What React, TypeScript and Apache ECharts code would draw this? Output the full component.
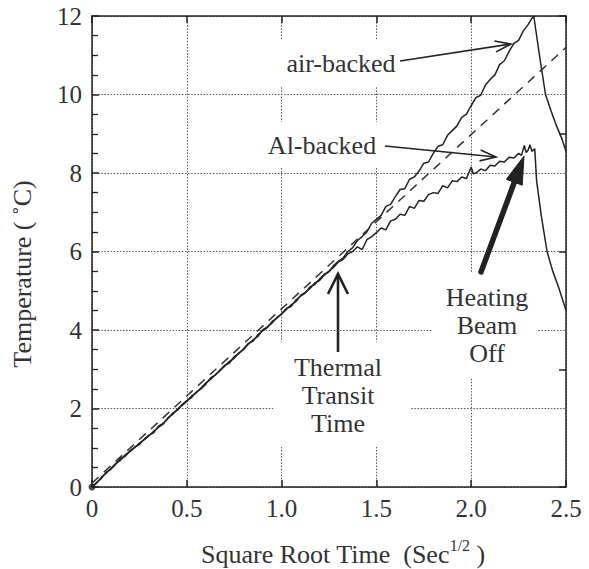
import React, { useEffect, useRef } from "react";
import * as echarts from "echarts";

// ---- data ----
const xTickValues = [0, 0.5, 1.0, 1.5, 2.0, 2.5];
const yTickValues = [0, 2, 4, 6, 8, 10, 12];

const airBacked: [number, number][] = [
  [0, 0], [0.025, 0.12], [0.05, 0.22], [0.075, 0.38], [0.1, 0.45], [0.125, 0.58], [0.15, 0.72],
  [0.175, 0.78], [0.2, 0.92], [0.225, 1.02], [0.25, 1.08], [0.275, 1.22], [0.3, 1.32],
  [0.325, 1.38], [0.35, 1.55], [0.375, 1.62], [0.4, 1.74], [0.425, 1.88], [0.45, 1.95],
  [0.475, 2.1], [0.5, 2.2], [0.525, 2.28], [0.55, 2.42], [0.575, 2.5], [0.6, 2.62],
  [0.625, 2.78], [0.65, 2.85], [0.675, 2.98], [0.7, 3.1], [0.725, 3.16], [0.75, 3.32],
  [0.775, 3.4], [0.8, 3.52], [0.825, 3.66], [0.85, 3.72], [0.875, 3.88], [0.9, 3.98],
  [0.925, 4.06], [0.95, 4.22], [0.975, 4.3], [1.0, 4.42], [1.025, 4.55], [1.05, 4.6],
  [1.075, 4.76], [1.1, 4.86], [1.125, 4.94], [1.15, 5.1], [1.175, 5.16], [1.2, 5.3],
  [1.225, 5.42], [1.25, 5.48], [1.275, 5.65], [1.3, 5.75], [1.325, 5.84], [1.35, 6.0],
  [1.375, 6.1], [1.4, 6.28], [1.425, 6.38], [1.45, 6.5], [1.475, 6.72], [1.5, 6.82],
  [1.525, 6.92], [1.55, 7.15], [1.575, 7.2], [1.6, 7.4], [1.625, 7.58], [1.65, 7.6],
  [1.675, 7.84], [1.7, 7.9], [1.725, 8.05], [1.75, 8.25], [1.775, 8.28], [1.8, 8.5],
  [1.825, 8.68], [1.85, 8.72], [1.875, 8.96], [1.9, 9.08], [1.925, 9.2], [1.95, 9.42],
  [1.975, 9.5], [2.0, 9.72], [2.025, 9.92], [2.05, 9.98], [2.075, 10.24], [2.1, 10.38],
  [2.125, 10.5], [2.15, 10.76], [2.175, 10.86], [2.2, 11.1], [2.225, 11.3], [2.25, 11.38],
  [2.275, 11.62], [2.3, 11.78], [2.315, 11.9], [2.33, 12.0], [2.36, 11.0], [2.392, 10.0],
  [2.42, 9.6], [2.45, 9.2], [2.48, 8.85], [2.5, 8.55],
];

const alBacked: [number, number][] = [
  [0, 0], [0.025, 0.1], [0.05, 0.25], [0.075, 0.35], [0.1, 0.48], [0.125, 0.6], [0.15, 0.68],
  [0.175, 0.82], [0.2, 0.9], [0.225, 1.0], [0.25, 1.12], [0.275, 1.2], [0.3, 1.3],
  [0.325, 1.42], [0.35, 1.52], [0.375, 1.6], [0.4, 1.76], [0.425, 1.85], [0.45, 1.98],
  [0.475, 2.08], [0.5, 2.18], [0.525, 2.32], [0.55, 2.4], [0.575, 2.52], [0.6, 2.65],
  [0.625, 2.74], [0.65, 2.86], [0.675, 2.96], [0.7, 3.08], [0.725, 3.2], [0.75, 3.28],
  [0.775, 3.42], [0.8, 3.5], [0.825, 3.64], [0.85, 3.75], [0.875, 3.84], [0.9, 4.0],
  [0.925, 4.08], [0.95, 4.18], [0.975, 4.32], [1.0, 4.4], [1.025, 4.52], [1.05, 4.64],
  [1.075, 4.72], [1.1, 4.88], [1.125, 4.96], [1.15, 5.06], [1.175, 5.2], [1.2, 5.26],
  [1.225, 5.4], [1.25, 5.5], [1.275, 5.6], [1.3, 5.74], [1.325, 5.8], [1.35, 5.94],
  [1.375, 6.0], [1.4, 6.12], [1.425, 6.05], [1.45, 6.3], [1.475, 6.38], [1.5, 6.48],
  [1.525, 6.6], [1.55, 6.55], [1.575, 6.78], [1.6, 6.82], [1.625, 6.95], [1.65, 6.92],
  [1.675, 7.15], [1.7, 7.1], [1.725, 7.3], [1.75, 7.28], [1.775, 7.45], [1.8, 7.5],
  [1.825, 7.48], [1.85, 7.68], [1.875, 7.62], [1.9, 7.8], [1.925, 7.78], [1.95, 7.9],
  [1.975, 7.86], [2.0, 8.15], [2.01, 7.98], [2.025, 8.0], [2.05, 8.1], [2.075, 8.06],
  [2.1, 8.2], [2.125, 8.18], [2.15, 8.3], [2.175, 8.28], [2.2, 8.4], [2.225, 8.38],
  [2.25, 8.5], [2.265, 8.45], [2.28, 8.7], [2.29, 8.52], [2.3, 8.58], [2.31, 8.72],
  [2.32, 8.55], [2.335, 8.62], [2.345, 7.8], [2.37, 6.9], [2.4, 6.0], [2.43, 5.5],
  [2.46, 5.1], [2.5, 4.5],
];

const fitLine: [number, number][] = [[0, 0.1], [2.5, 11.2]];
const originPoint: [number, number][] = [[0, 0]];

// ---- styling ----
const FONT = '"Liberation Serif", "Times New Roman", Times, serif';
const INK = "#222222";
const TEXT = "#333333";

function arrowHead(tx: number, ty: number, fx: number, fy: number, len: number, half: number) {
  const dx = tx - fx;
  const dy = ty - fy;
  const d = Math.hypot(dx, dy);
  const ux = dx / d;
  const uy = dy / d;
  const bx = tx - ux * len;
  const by = ty - uy * len;
  return [
    [bx - uy * half, by + ux * half],
    [tx, ty],
    [bx + uy * half, by - ux * half],
  ];
}

function openArrow(x1: number, y1: number, x2: number, y2: number, w: number, len: number, half: number) {
  return [
    { type: "polyline", z: 20, shape: { points: [[x1, y1], [x2, y2]] }, style: { stroke: INK, lineWidth: w, fill: null } },
    { type: "polyline", z: 20, shape: { points: arrowHead(x2, y2, x1, y1, len, half) }, style: { stroke: INK, lineWidth: w, fill: null } },
  ];
}

function whiteBox(x: number, y: number, w: number, h: number) {
  return { type: "rect", z: 10, shape: { x, y, width: w, height: h }, style: { fill: "#ffffff" } };
}

function label(text: string, x: number, y: number) {
  return {
    type: "text",
    z: 21,
    x,
    y,
    style: {
      text,
      fill: TEXT,
      font: `26px ${FONT}`,
      align: "center",
      verticalAlign: "middle",
      lineHeight: 28,
    },
  };
}

export default function App() {
  const ref = useRef<HTMLDivElement>(null);

  useEffect(() => {
    if (!ref.current) return;
    const chart = echarts.init(ref.current, null, { renderer: "svg" });

    const axisLabelStyle = { fontFamily: FONT, fontSize: 25, color: TEXT };
    const splitStyle = { show: true, lineStyle: { type: [1.5, 1.6], color: "#555555", width: 1 } };

    const heatTip: [number, number] = [524, 156];
    const heatFrom: [number, number] = [481, 272];

    chart.setOption({
      animation: false,
      backgroundColor: "#ffffff",
      grid: { left: 92, right: 23, top: 16, bottom: 82, containLabel: false },
      xAxis: [
        {
          type: "value",
          min: 0,
          max: 2.5,
          interval: 0.5,
          position: "bottom",
          axisLine: { show: true, onZero: false, lineStyle: { color: INK, width: 1.5 } },
          axisTick: { show: true, inside: true, length: 7, lineStyle: { color: INK, width: 1.5 } },
          axisLabel: {
            ...axisLabelStyle,
            margin: 9,
            formatter: (v: number) => (xTickValues.indexOf(v) === 0 ? "0" : v.toFixed(1)),
          },
          splitLine: splitStyle,
        },
        {
          type: "value",
          min: 0,
          max: 2.5,
          interval: 0.5,
          position: "top",
          axisLine: { show: true, onZero: false, lineStyle: { color: INK, width: 1.5 } },
          axisTick: { show: true, inside: true, length: 7, lineStyle: { color: INK, width: 1.5 } },
          axisLabel: { show: false },
          splitLine: { show: false },
        },
      ],
      yAxis: [
        {
          type: "value",
          min: yTickValues[0],
          max: yTickValues[yTickValues.length - 1],
          interval: 2,
          position: "left",
          axisLine: { show: true, onZero: false, lineStyle: { color: INK, width: 1.5 } },
          axisTick: { show: true, inside: true, length: 7, lineStyle: { color: INK, width: 1.5 } },
          minorTick: { show: true, splitNumber: 4, length: 6, lineStyle: { color: INK, width: 1.3 } },
          axisLabel: { ...axisLabelStyle, margin: 10 },
          splitLine: splitStyle,
        },
        {
          type: "value",
          min: 0,
          max: 12,
          interval: 3,
          position: "right",
          axisLine: { show: true, onZero: false, lineStyle: { color: INK, width: 1.5 } },
          axisTick: { show: true, inside: true, length: 7, lineStyle: { color: INK, width: 1.5 } },
          axisLabel: { show: false },
          splitLine: { show: false },
        },
      ],
      series: [
        {
          name: "air-backed",
          type: "line",
          data: airBacked,
          showSymbol: false,
          symbol: "none",
          lineStyle: { color: INK, width: 1.5 },
          z: 3,
        },
        {
          name: "Al-backed",
          type: "line",
          data: alBacked,
          showSymbol: false,
          symbol: "none",
          lineStyle: { color: INK, width: 1.5 },
          z: 3,
        },
        {
          name: "fit",
          type: "line",
          data: fitLine,
          showSymbol: false,
          symbol: "none",
          lineStyle: { color: "#333333", width: 1.5, type: [9, 7] },
          z: 3,
        },
        {
          name: "origin",
          type: "scatter",
          data: originPoint,
          symbolSize: 7,
          itemStyle: { color: INK },
          z: 4,
        },
      ],
      graphic: [
        // gaps in the grid behind the annotations
        whiteBox(272, 40, 130, 47),
        whiteBox(262, 122, 124, 45),
        whiteBox(273, 342, 137, 105),
        whiteBox(432, 272, 106, 105),
        // labels
        label("air-backed", 341, 63),
        label("Al-backed", 322, 145),
        label("Thermal\nTransit\nTime", 338, 395),
        label("Heating\nBeam\nOff", 487, 325),
        // arrows
        ...openArrow(400, 61, 511, 44, 1.6, 16, 5.5),
        ...openArrow(385, 146, 496, 157, 1.6, 16, 5.5),
        ...openArrow(338, 352, 338, 274, 2.6, 20, 10),
        {
          type: "polyline",
          z: 20,
          shape: { points: [heatFrom, [517, 175]] },
          style: { stroke: INK, lineWidth: 5.5, lineCap: "round", fill: null },
        },
        {
          type: "polygon",
          z: 20,
          shape: { points: arrowHead(heatTip[0], heatTip[1], heatFrom[0], heatFrom[1], 28, 8.5) },
          style: { fill: INK, stroke: INK, lineWidth: 1 },
        },
        // axis titles
        {
          type: "text",
          z: 21,
          x: 22,
          y: 274,
          rotation: Math.PI / 2,
          style: {
            text: "Temperature ( ˚C)",
            fill: TEXT,
            font: `26px ${FONT}`,
            align: "center",
            verticalAlign: "middle",
          },
        },
        {
          type: "text",
          z: 21,
          x: 343,
          y: 552,
          style: {
            text: "{b|Square Root Time  (Sec}{s|1/2}{b| )}",
            fill: TEXT,
            font: `26px ${FONT}`,
            align: "center",
            verticalAlign: "middle",
            rich: {
              b: { fontFamily: FONT, fontSize: 26, fill: TEXT, lineHeight: 30, verticalAlign: "bottom" },
              s: { fontFamily: FONT, fontSize: 16, fill: TEXT, lineHeight: 30, verticalAlign: "top" },
            },
          },
        },
      ],
    });

    return () => chart.dispose();
  }, []);

  return (
    <div
      ref={ref}
      style={{ position: "absolute", left: 0, top: 0, width: 589, height: 569, background: "#fff" }}
    />
  );
}
